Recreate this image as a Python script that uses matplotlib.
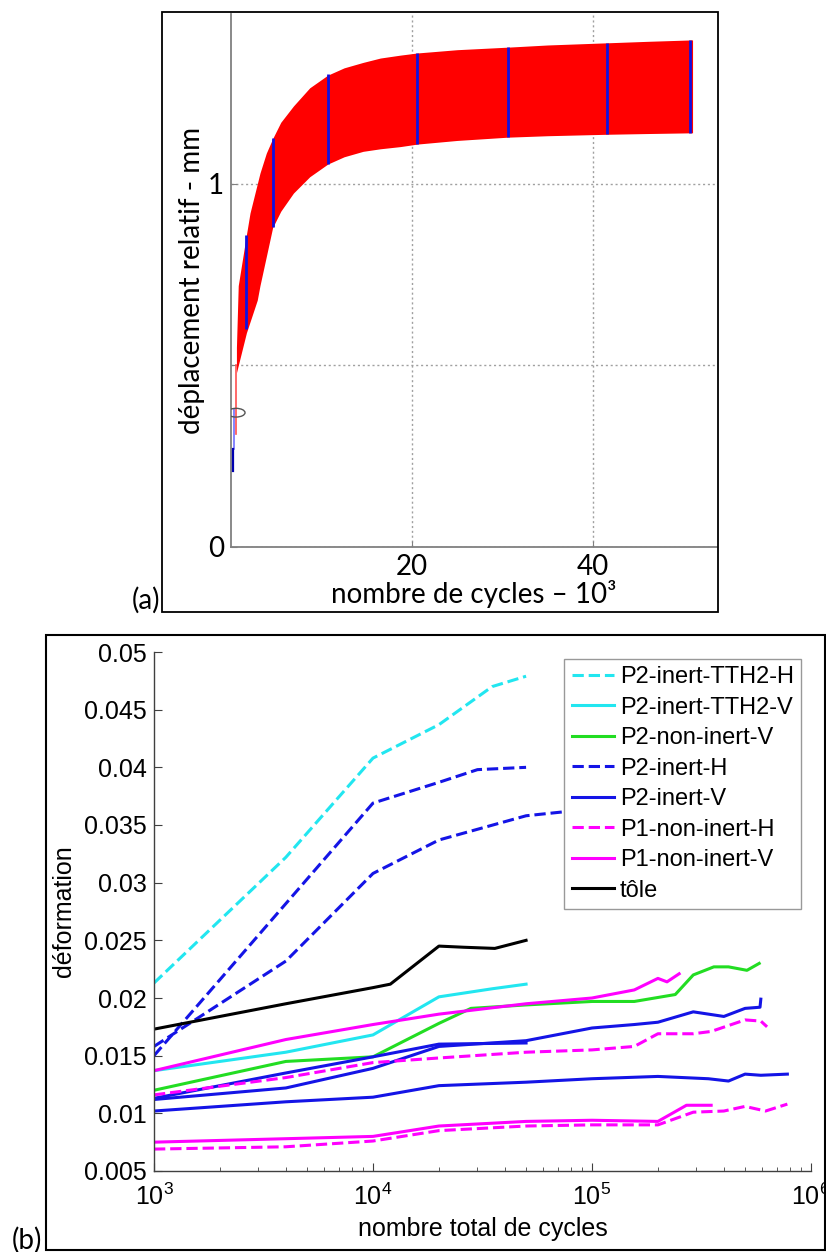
import matplotlib
matplotlib.use('Agg')
import matplotlib.pyplot as plt
from matplotlib.patches import Rectangle, Ellipse
from matplotlib.ticker import FixedLocator, LogLocator, NullFormatter

plt.rcParams['mathtext.fontset'] = 'custom'
plt.rcParams['mathtext.rm'] = 'Liberation Sans'
plt.rcParams['mathtext.it'] = 'Liberation Sans'

# ---------------- Panel (a) data (cycles in 10^3, displacement in mm) ----------------
env_cycles = [0.6, 0.8, 1.7, 2.1, 2.9, 3.2, 3.9, 4.6, 5.5, 6.9, 8.7, 10.7, 12.5, 14.6,
              16.5, 18.7, 20.6, 25.0, 30.6, 35.0, 41.6, 46.0, 51.0]
env_upper = [0.55, 0.72, 0.86, 0.92, 1.00, 1.03, 1.085, 1.125, 1.17, 1.215, 1.265, 1.30,
             1.32, 1.335, 1.347, 1.355, 1.361, 1.370, 1.377, 1.383, 1.389, 1.393, 1.397]
env_lower = [0.48, 0.50, 0.59, 0.62, 0.68, 0.72, 0.80, 0.88, 0.925, 0.975, 1.02, 1.055,
             1.075, 1.09, 1.097, 1.103, 1.110, 1.120, 1.129, 1.133, 1.137, 1.139, 1.141]
blue_cycles = [1.7, 4.6, 10.7, 20.6, 30.6, 41.6, 50.7]
blue_top = [0.86, 1.127, 1.303, 1.361, 1.377, 1.389, 1.397]
blue_bot = [0.60, 0.882, 1.055, 1.110, 1.129, 1.137, 1.141]
early_dark_x = [0.2, 0.2]
early_dark_y = [0.21, 0.27]
early_light_x = [0.35, 0.35]
early_light_y = [0.27, 0.38]
early_red_x = [0.6, 0.6]
early_red_y = [0.31, 0.50]
marker_center = (0.55, 0.37)

# ---------------- Panel (b) data ----------------
tth2_h_x = [1e3, 4e3, 1e4, 2e4, 3.5e4, 5e4]
tth2_h_y = [0.0213, 0.0322, 0.0408, 0.0437, 0.0470, 0.0479]

tth2_v_x = [1e3, 4e3, 1e4, 2e4, 3.5e4, 5e4]
tth2_v_y = [0.0137, 0.0153, 0.0168, 0.0201, 0.0208, 0.0212]

p2ni_v_x = [1e3, 4e3, 1e4, 2e4, 2.8e4, 5e4, 1e5, 1.56e5, 2.4e5, 2.9e5, 3.6e5, 4.2e5, 5.1e5, 5.8e5]
p2ni_v_y = [0.0120, 0.0145, 0.0149, 0.0178, 0.0191, 0.0194, 0.0197, 0.0197, 0.0203, 0.0220, 0.0227, 0.0227, 0.0224, 0.0230]

p2i_h1_x = [1e3, 1e4, 2e4, 3e4, 5e4]
p2i_h1_y = [0.0150, 0.0369, 0.0387, 0.0398, 0.0400]
p2i_h2_x = [1e3, 4e3, 1e4, 2e4, 5e4, 1e5, 1.5e5]
p2i_h2_y = [0.0158, 0.0232, 0.0308, 0.0337, 0.0358, 0.0364, 0.0368]

p2i_v1_x = [1e3, 4e3, 1e4, 2e4, 5e4]
p2i_v1_y = [0.0113, 0.0135, 0.0149, 0.0160, 0.0161]
p2i_v2_x = [1e3, 4e3, 1e4, 2e4, 5e4, 1e5, 1.56e5, 2e5, 2.9e5, 4e5, 5e5, 5.85e5, 5.9e5]
p2i_v2_y = [0.0112, 0.0122, 0.0139, 0.0158, 0.0163, 0.0174, 0.0177, 0.0179, 0.0188, 0.0184, 0.0191, 0.0192, 0.0199]
p2i_v3_x = [1e3, 4e3, 1e4, 2e4, 5e4, 1e5, 2e5, 3.4e5, 4.2e5, 5e5, 5.9e5, 7.8e5]
p2i_v3_y = [0.0102, 0.0110, 0.0114, 0.0124, 0.0127, 0.0130, 0.0132, 0.0130, 0.0128, 0.0134, 0.0133, 0.0134]

p1ni_h1_x = [1e3, 4e3, 1e4, 2e4, 5e4, 1e5, 1.56e5, 2e5, 2.9e5, 3.5e5, 5e5, 5.9e5, 6.3e5]
p1ni_h1_y = [0.0116, 0.0131, 0.0144, 0.0148, 0.0153, 0.0155, 0.0158, 0.0169, 0.0169, 0.0171, 0.0181, 0.0180, 0.0175]
p1ni_h2_x = [1e3, 4e3, 1e4, 2e4, 5e4, 1e5, 2e5, 2.9e5, 4e5, 5e5, 6.2e5, 7.8e5]
p1ni_h2_y = [0.0069, 0.0071, 0.0076, 0.0085, 0.0089, 0.0090, 0.0090, 0.0101, 0.0102, 0.0106, 0.0102, 0.0108]

p1ni_v1_x = [1e3, 4e3, 1e4, 2e4, 5e4, 1e5, 1.56e5, 2e5, 2.2e5, 2.5e5]
p1ni_v1_y = [0.0137, 0.0164, 0.0177, 0.0186, 0.0195, 0.0200, 0.0207, 0.0217, 0.0214, 0.0221]
p1ni_v2_x = [1e3, 4e3, 1e4, 2e4, 5e4, 1e5, 2e5, 2.7e5, 3.5e5]
p1ni_v2_y = [0.0075, 0.0078, 0.0080, 0.0089, 0.0093, 0.0094, 0.0093, 0.0107, 0.0107]

tole_x = [1e3, 4e3, 1e4, 1.2e4, 2e4, 2.6e4, 3.6e4, 5e4]
tole_y = [0.0173, 0.0195, 0.0209, 0.0212, 0.0245, 0.0244, 0.0243, 0.0250]

legend_labels = ['P2-inert-TTH2-H', 'P2-inert-TTH2-V', 'P2-non-inert-V', 'P2-inert-H',
                 'P2-inert-V', 'P1-non-inert-H', 'P1-non-inert-V', 't\u00f4le']

W, H = 826, 1252
fig = plt.figure(figsize=(W / 100, H / 100), dpi=100)

def fx(px):
    return px / W

def fy(py):
    return 1 - py / H

# ---------------- Panel (a) ----------------
a_l, a_r, a_t, a_b = 231, 717, 14, 547
axa = fig.add_axes([fx(a_l), fy(a_b), (a_r - a_l) / W, (a_b - a_t) / H])
axa.set_xlim(0, (a_r - a_l) / 9.05)
axa.set_ylim(0, (a_b - a_t) / 363.0)
axa.fill_between(env_cycles, env_lower, env_upper, color='#ff0000', lw=0, zorder=2)
axa.vlines(blue_cycles, blue_bot, blue_top, color='#1010e0', lw=2.0, zorder=3)
axa.plot(early_red_x, early_red_y, color='#ff5050', lw=1.2, zorder=3)
axa.plot(early_light_x, early_light_y, color='#7070ff', lw=1.2, zorder=3)
axa.plot(early_dark_x, early_dark_y, color='#0000b0', lw=1.6, zorder=3)
axa.add_patch(Ellipse(marker_center, 2.0, 0.024, fill=False, ec='#555555', lw=1.0, zorder=4))
axa.set_xticks([20, 40])
axa.set_yticks([0, 0.5, 1])
axa.set_yticklabels(['0', '', '1'])
axa.grid(True, ls=(0, (1.5, 2)), color='#a0a0a0', lw=1.0)
for s in ['top', 'right']:
    axa.spines[s].set_visible(False)
for s in ['left', 'bottom']:
    axa.spines[s].set_color('#808080')
    axa.spines[s].set_linewidth(1.3)
axa.tick_params(direction='in', length=4, color='#808080', labelsize=20, pad=5)
for lab in axa.get_xticklabels() + axa.get_yticklabels():
    lab.set_fontfamily('Lato')
axa.set_ylabel('d\u00e9placement relatif - mm', fontsize=20, family='Lato', labelpad=2)
axa.set_xlabel('nombre de cycles \u2013 10\u00b3', fontsize=20, family='Lato', labelpad=0)

fig.add_artist(Rectangle((fx(162), fy(612)), (718 - 162) / W, (612 - 12) / H,
                         transform=fig.transFigure, fill=False, ec='black', lw=1.3))
fig.text(fx(160), fy(600), '(a)', ha='right', va='center', fontsize=20, family='Lato')

# ---------------- Panel (b) ----------------
b_l, b_r, b_t, b_b = 154, 811, 652, 1171
axb = fig.add_axes([fx(b_l), fy(b_b), (b_r - b_l) / W, (b_b - b_t) / H])
axb.set_xscale('log')
axb.set_xlim(1e3, 1e6)
axb.set_ylim(0.005, 0.05)

lw = 2.2
cy = '#22e6f0'
gr = '#22dd22'
bl = '#1414e6'
mg = '#ff00ff'
axb.plot(tth2_h_x, tth2_h_y, '--', color=cy, lw=lw, label=legend_labels[0])
axb.plot(tth2_v_x, tth2_v_y, '-', color=cy, lw=lw, label=legend_labels[1])
axb.plot(p2ni_v_x, p2ni_v_y, '-', color=gr, lw=lw, label=legend_labels[2])
axb.plot(p2i_h1_x, p2i_h1_y, '--', color=bl, lw=lw, label=legend_labels[3])
axb.plot(p2i_h2_x, p2i_h2_y, '--', color=bl, lw=lw)
axb.plot(p2i_v1_x, p2i_v1_y, '-', color=bl, lw=lw, label=legend_labels[4])
axb.plot(p2i_v2_x, p2i_v2_y, '-', color=bl, lw=lw)
axb.plot(p2i_v3_x, p2i_v3_y, '-', color=bl, lw=lw)
axb.plot(p1ni_h1_x, p1ni_h1_y, '--', color=mg, lw=lw, label=legend_labels[5])
axb.plot(p1ni_h2_x, p1ni_h2_y, '--', color=mg, lw=lw)
axb.plot(p1ni_v1_x, p1ni_v1_y, '-', color=mg, lw=lw, label=legend_labels[6])
axb.plot(p1ni_v2_x, p1ni_v2_y, '-', color=mg, lw=lw)
axb.plot(tole_x, tole_y, '-', color='black', lw=lw, label=legend_labels[7])

axb.set_yticks([0.005, 0.01, 0.015, 0.02, 0.025, 0.03, 0.035, 0.04, 0.045, 0.05])
axb.set_yticklabels(['0.005', '0.01', '0.015', '0.02', '0.025', '0.03', '0.035', '0.04', '0.045', '0.05'])
axb.xaxis.set_major_locator(FixedLocator([1e3, 1e4, 1e5, 1e6]))
axb.xaxis.set_minor_locator(LogLocator(base=10, subs=range(2, 10)))
axb.xaxis.set_minor_formatter(NullFormatter())
for s in ['top', 'right']:
    axb.spines[s].set_visible(False)
for s in ['left', 'bottom']:
    axb.spines[s].set_color('#404040')
    axb.spines[s].set_linewidth(1.0)
axb.tick_params(which='major', direction='in', length=6, color='#404040', labelsize=18,
                pad=5)
axb.tick_params(axis='x', which='major', pad=9)
axb.tick_params(which='minor', direction='in', length=3, color='#404040')
for lab in axb.get_xticklabels() + axb.get_yticklabels():
    lab.set_fontfamily('Liberation Sans')
axb.set_ylabel('d\u00e9formation', fontsize=18, family='Liberation Sans', labelpad=6)
axb.set_xlabel('nombre total de cycles', fontsize=18, family='Liberation Sans', labelpad=5)

leg = axb.legend(loc='upper right', bbox_to_anchor=(fx(801), fy(659)),
                 bbox_transform=fig.transFigure, prop={'family': 'Liberation Sans', 'size': 17},
                 frameon=True, fancybox=False, framealpha=1.0, handlelength=1.8,
                 handletextpad=0.25, labelspacing=0.36, borderpad=0.3, borderaxespad=0)
leg.get_frame().set_edgecolor('#999999')
leg.get_frame().set_linewidth(1.0)

fig.add_artist(Rectangle((fx(46), fy(1250)), (825 - 46) / W, (1250 - 635) / H,
                         transform=fig.transFigure, fill=False, ec='black', lw=1.5))
fig.text(fx(42), fy(1240), '(b)', ha='right', va='center', fontsize=20, family='Lato')

fig.savefig('out.png', dpi=100)
